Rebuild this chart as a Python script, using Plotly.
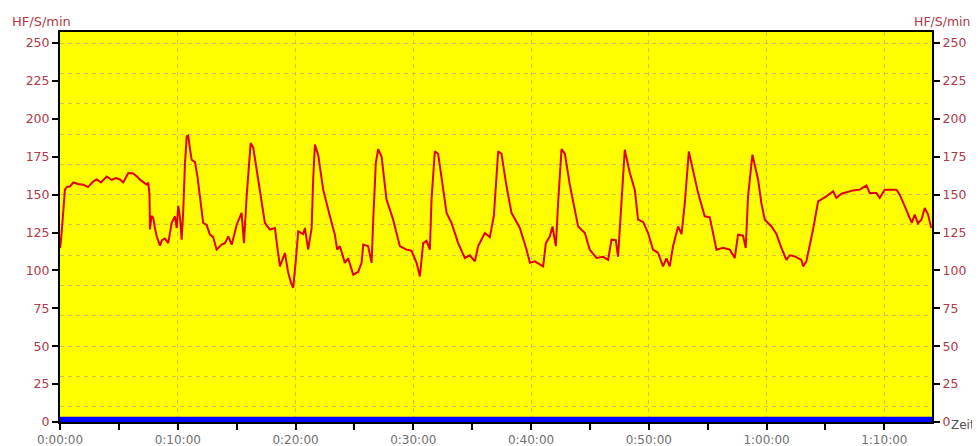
import plotly.graph_objects as go

# Heart rate series (time in minutes, HF in beats/min)
hr_minutes = [
    0.00, 0.06, 0.17, 0.42, 0.57, 0.85, 1.13, 1.53, 1.98, 2.38, 2.83, 3.12, 3.48, 3.96, 4.39, 4.75,
    5.09, 5.37, 5.80, 6.22, 6.54, 6.79, 7.36, 7.50, 7.60, 7.64, 7.77, 7.92, 8.06, 8.21, 8.49, 8.66,
    8.91, 9.19, 9.48, 9.76, 9.91, 10.04, 10.19, 10.33, 10.47, 10.61, 10.76, 10.89, 11.04, 11.18,
    11.46, 11.67, 11.88, 12.16, 12.45, 12.73, 13.01, 13.30, 13.73, 14.01, 14.29, 14.58, 15.00,
    15.42, 15.62, 15.85, 16.19, 16.41, 16.83, 17.12, 17.40, 17.83, 18.25, 18.46, 18.68, 19.10,
    19.38, 19.61, 19.80, 20.03, 20.23, 20.65, 20.80, 21.08, 21.37, 21.50, 21.65, 21.93, 22.35,
    22.92, 23.34, 23.54, 23.77, 24.19, 24.47, 24.90, 25.32, 25.61, 25.75, 26.17, 26.32, 26.46,
    26.60, 26.82, 27.02, 27.31, 27.73, 28.29, 28.86, 29.43, 29.85, 30.28, 30.56, 30.84, 31.13,
    31.41, 31.55, 31.83, 32.11, 32.40, 32.83, 33.25, 33.81, 34.38, 34.80, 35.23, 35.51, 36.08,
    36.50, 36.84, 37.07, 37.21, 37.49, 37.92, 38.34, 39.05, 39.62, 39.90, 40.32, 40.75, 41.03,
    41.26, 41.60, 41.82, 42.11, 42.30, 42.59, 42.87, 43.29, 44.00, 44.57, 44.99, 45.56, 46.12,
    46.55, 46.83, 47.20, 47.39, 47.68, 47.96, 48.39, 48.81, 49.09, 49.52, 49.94, 50.36, 50.79,
    51.21, 51.50, 51.78, 52.06, 52.49, 52.78, 53.06, 53.40, 53.63, 54.19, 54.75, 55.18, 55.75,
    56.31, 56.88, 57.30, 57.58, 58.00, 58.23, 58.43, 58.80, 59.28, 59.56, 59.85, 60.42, 60.84,
    61.26, 61.69, 61.97, 62.39, 62.96, 63.10, 63.38, 63.67, 63.95, 64.38, 65.08, 65.65, 65.93,
    66.36, 67.34, 67.91, 68.48, 68.76, 69.33, 69.61, 70.03, 71.03, 71.31, 71.87, 72.33, 72.58,
    72.86, 73.15, 73.43, 73.71, 73.99,
]
hr_values = [
    114.8, 118, 128, 153.3, 155, 155.5, 158, 157, 156.6, 155, 158.8, 160, 158, 162, 159.8, 161,
    160, 158, 164.3, 164, 162, 159.9, 156.6, 158, 150, 127, 136, 134.6, 128, 122.5, 116.4, 120,
    121, 118, 131.3, 135.7, 128, 142.7, 135, 120.3, 140, 170, 188.4, 189, 180, 173,
    171.5, 162, 148.8, 131.3, 130, 123.6, 122, 113.7, 117, 118, 122.5, 117, 130,
    138, 118, 148.9, 184, 181, 160, 145, 131.3, 127, 128, 115, 102.7, 111.5,
    98.4, 92, 88.5, 107, 125.8, 124, 128, 113.7, 128, 160, 183, 176, 153.3,
    135.7, 123.6, 113.7, 116, 105, 108, 97.2, 99, 105, 117, 116, 110, 105,
    133.5, 171, 180, 175, 146.7, 133.5, 116, 113.7, 113, 105, 96, 118, 119.5,
    113.7, 146.7, 178.5, 177, 161, 138, 131.3, 118, 108.2, 110, 106, 116, 124.7,
    122, 135.7, 160, 178.5, 177, 155.5, 138, 128, 113.7, 105, 106, 104, 102.7,
    118, 122.5, 129, 116, 144.5, 180, 177, 156.6, 129, 124.7, 113.7, 108.2, 109,
    107, 120.3, 120, 109, 148.9, 179.6, 164.3, 153.3, 133.5, 132, 124.7, 113.7, 111.5,
    102.7, 108, 102.7, 116, 129, 124, 144.5, 178.5, 171, 151, 135.7, 135, 113.7,
    115, 113.7, 108.2, 123.6, 123, 114.8, 148.9, 176.4, 160, 144.5, 133.5, 129, 124,
    114.8, 107, 110, 109.3, 107, 102.7, 106, 116, 127, 145.6, 148.9, 152.2, 147.8,
    150.6, 152.8, 153.3, 156, 151, 151, 147.8, 153.3, 153.3, 150, 140, 131.3, 136.8,
    131, 133.5, 141.2, 137, 128,
]

# Second (bottom) series drawn as a blue band
band_minutes = [0.0, 74.05]
band_values = [3.5, 3.5]

x_tick_minutes = [0, 10, 20, 30, 40, 50, 60, 70]
x_tick_labels = ["0:00:00", "0:10:00", "0:20:00", "0:30:00", "0:40:00", "0:50:00", "1:00:00", "1:10:00"]
y_tick_values = [0, 25, 50, 75, 100, 125, 150, 175, 200, 225, 250]

X_RANGE = [0, 74.05]
Y_RANGE = [0, 257.3]
LABEL_RED = "#b03a48"
GRID = "rgb(215,190,75)"
GRID_DASH = "4px,4px"
FONT = "DejaVu Sans, Verdana, sans-serif"

fig = go.Figure()
fig.add_trace(go.Scatter(x=band_minutes, y=band_values, mode="lines", fill="tozeroy",
                         fillcolor="#0000ff", line=dict(color="#0000ff", width=0),
                         hoverinfo="skip", showlegend=False))
fig.add_trace(go.Scatter(x=hr_minutes, y=hr_values, mode="lines",
                         line=dict(color="#e00000", width=2), showlegend=False))
# invisible traces to activate overlay axes
fig.add_trace(go.Scatter(x=[None], y=[None], yaxis="y2", showlegend=False))
fig.add_trace(go.Scatter(x=[None], y=[None], yaxis="y3", showlegend=False))

fig.update_layout(
    width=972, height=438,
    margin=dict(l=52, r=48, t=24, b=24, autoexpand=False),
    paper_bgcolor="white", plot_bgcolor="#ffff00",
    font=dict(family=FONT, size=12),
    xaxis=dict(range=X_RANGE, tickvals=x_tick_minutes, ticktext=x_tick_labels,
               showgrid=True, gridcolor=GRID, griddash=GRID_DASH, gridwidth=1,
               showline=True, linecolor="black", linewidth=2, mirror=True,
               ticks="outside", ticklen=6, tickwidth=2, tickcolor="black",
               minor=dict(dtick=5, tick0=0, ticks="outside", ticklen=6, tickwidth=2,
                          tickcolor="black", showgrid=False),
               tickfont=dict(color="#707070", size=12, family=FONT), zeroline=False,
               automargin=False),
    yaxis=dict(range=Y_RANGE, tickvals=y_tick_values, showgrid=False, zeroline=False,
               showline=True, linecolor="black", linewidth=2,
               ticks="outside", ticklen=6, tickwidth=2, tickcolor="black",
               tickfont=dict(color=LABEL_RED, size=12.5, family=FONT), automargin=False),
    yaxis2=dict(range=Y_RANGE, tickvals=y_tick_values, overlaying="y", side="right",
                showgrid=False, zeroline=False, showline=True, linecolor="black", linewidth=2,
                ticks="outside", ticklen=6, tickwidth=2, tickcolor="black",
                tickfont=dict(color=LABEL_RED, size=12.5, family=FONT), automargin=False),
    yaxis3=dict(range=Y_RANGE, overlaying="y", dtick=20, tick0=10, showgrid=True,
                gridcolor=GRID, griddash=GRID_DASH, gridwidth=1, showticklabels=False,
                ticks="", zeroline=False, showline=False, automargin=False),
    annotations=[
        dict(text="HF/S/min", xref="paper", yref="paper", x=-0.057, y=1.0, xanchor="left",
             yanchor="bottom", yshift=1, showarrow=False,
             font=dict(color=LABEL_RED, size=13, family=FONT)),
        dict(text="HF/S/min", xref="paper", yref="paper", x=1.047, y=1.0, xanchor="right",
             yanchor="bottom", yshift=1, showarrow=False,
             font=dict(color=LABEL_RED, size=12.5, family=FONT)),
        dict(text="Zeit", xref="paper", yref="paper", x=1.02, y=0.0, xanchor="left",
             yanchor="middle", yshift=-3, showarrow=False,
             font=dict(color="#505050", size=12, family=FONT)),
    ],
)

fig.write_html("out.html")
